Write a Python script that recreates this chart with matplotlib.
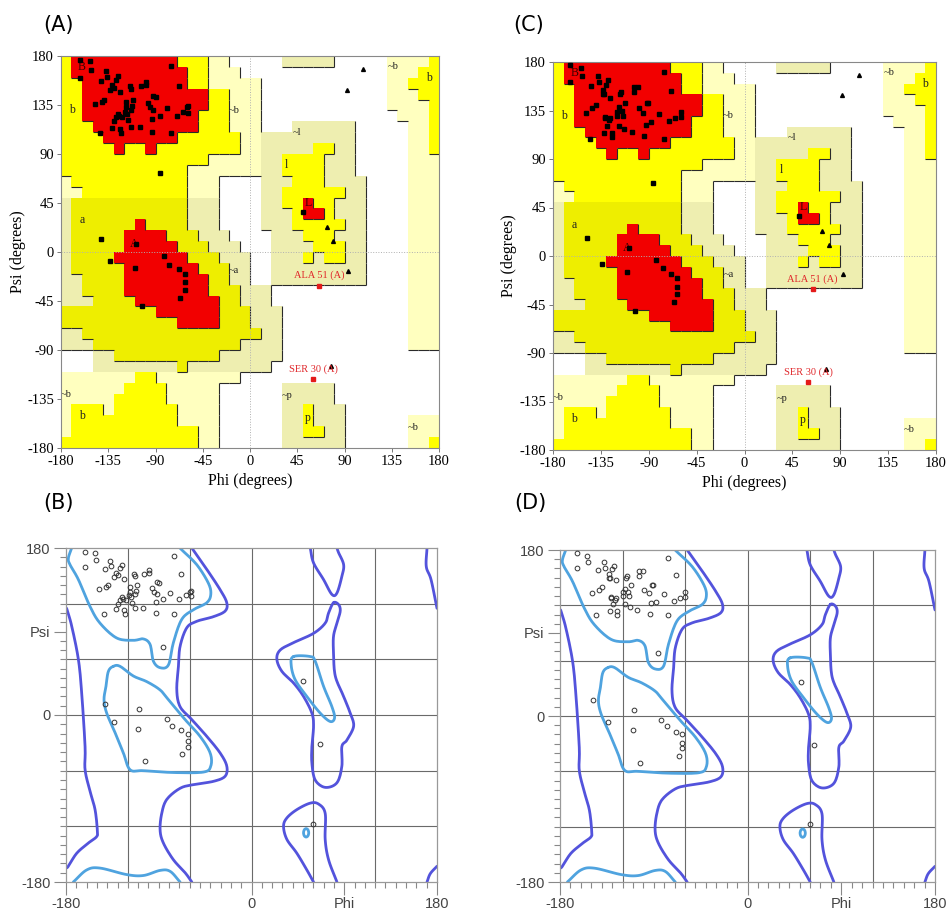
import numpy as np
import matplotlib
matplotlib.use("Agg")
import matplotlib.pyplot as plt
from matplotlib.collections import LineCollection
from matplotlib.colors import ListedColormap
from matplotlib.patches import Ellipse

# ---------------- PROCHECK region map (rows from psi 180 down, runs: code + end phi) ---------
REGION_ROWS = [
    "A-170 R-70 A-40 G-20 .30 G80 .130 G170 A180",
    "A-170 R-60 A-40 G-10 .130 G160 A180",
    "A-160 R-60 A-40 G10 .130 G150 A180",
    "A-160 R-40 A-20 G10 .130 G160 A180",
    "A-160 R-40 A-20 G10 .130 G170 A180",
    "A-160 R-50 A-20 G10 .140 G170 A180",
    "A-150 R-50 A-20 G10 .40 G100 .150 G170 A180",
    "A-140 R-70 A-10 G100 .150 G170 A180",
    "A-130 R-120 A-100 R-90 A-10 G60 A80 G100 .150 G170 A180",
    "A-40 G30 A70 G100 .150 G180",
    "A-60 G30 A70 G100 .150 G180",
    "G-170 A-60 G-30 .10 G40 A70 G110 .150 G180",
    "G-160 A-60 G-30 .10 G30 A90 G110 .150 G180",
    "G-170 A-60 G-30 .10 G30 A50 R60 A80 G110 .150 G180",
    "G-170 A-60 G-30 .10 G40 A50 R70 A80 G110 .150 G180",
    "G-170 A-110 R-100 A-60 G-30 .10 G40 A90 G110 .150 G180",
    "G-170 A-120 R-80 A-50 G-20 .20 G50 A80 G110 .150 G180",
    "G-170 A-120 R-70 A-40 G-10 .20 G60 A90 G110 .150 G180",
    "G-170 A-130 R-60 A-30 G0 .20 G50 A60 G70 A90 G110 .150 G180",
    "G-170 A-120 R-50 A-20 G0 .20 G110 .150 G180",
    "G-160 A-120 R-40 A-20 G0 .20 G110 .150 G180",
    "G-160 A-120 R-40 A-10 G20 .150 G180",
    "G-150 A-110 R-30 A-10 G20 .150 G180",
    "A-90 R-30 A0 G30 .150 G180",
    "A-70 R-30 A0 G30 .150 G180",
    "G-160 A10 G30 .150 G180",
    "G-150 A-10 G30 .150 G180",
    ".-150 G-130 A-30 G30 .180",
    ".-150 G-70 A-60 G20 .180",
    "G-110 A-90 G-10 .180",
    "G-120 A-80 G-30 .30 G80 .180",
    "G-130 A-80 G-30 .30 G80 .180",
    "G-170 A-140 G-130 A-70 G-30 .30 G50 A60 G90 .180",
    "G-170 A-70 G-30 .30 G50 A60 G90 .150 G180",
    "G-170 A-50 G-30 .30 G50 A70 G90 .150 G180",
    "A-50 G-30 .30 G90 .150 G170 A180",
]

REGION_LABELS = [("B", -160, 170), ("b", -170, 130), ("~b", -15, 130), ("~l", 45, 110),
                 ("l", 35, 80), ("L", 55, 45), ("a", -160, 29), ("A", -110, 7),
                 ("~a", -15, -17), ("~b", 136, 170), ("b", 170, 160), ("~b", -175, -131),
                 ("b", -160, -151), ("~p", 35, -132), ("p", 55, -152), ("~b", 155, -161)]

# ---------------- Model 1 (panels A and B) ----------------
m1_phi = [-162, -152, -151, -162, -137, -136, -142, -126, -128, -131, -133, -130, -124, -114, -113,
          -104, -99, -99, -92, -90, -148, -141, -139, -118, -118, -111, -112, -113, -119, -117,
          -126, -125, -128, -122, -116, -130, -97, -95, -92, -79, -93, -86, -70, -64, -60, -59,
          -59, -68, -75, -143, -131, -124, -123, -113, -105, -93, -75, -86,
          -142, -109, -133, -110, -82, -77, -68, -62, -62, -62, -67, -103, 50]
m1_psi = [176, 175, 167, 160, 166, 161, 157, 162, 158, 153, 149, 151, 147, 152, 150,
          152, 156, 153, 143, 142, 136, 138, 140, 138, 133, 140, 134, 130, 129, 127,
          127, 125, 124, 124, 121, 120, 137, 133, 130, 132, 122, 125, 125, 129, 133, 134,
          128, 152, 171, 109, 114, 113, 109, 115, 115, 110, 109, 73,
          12, 7, -8, -15, -4, -12, -16, -20, -28, -35, -42, -50, 37]
m1_out_phi = [66, 60]
m1_out_psi = [-31, -117]

# ---------------- Model 2 (panels C and D) ----------------
m2_phi = [-164, -154, -153, -164, -138, -137, -144, -128, -130, -133, -133, -132, -126, -116, -117,
          -104, -100, -104, -112, -92, -91, -149, -143, -140, -131, -131, -126, -127, -129, -120,
          -118, -120, -115, -114, -118, -113, -106, -99, -95, -93, -88, -80, -71, -65, -60, -60,
          -76, -69, -145, -132, -125, -125, -94, -76, -86,
          -148, -109, -134, -110, -83, -77, -69, -63, -63, -63, -66, -103, 51]
m2_psi = [177, 174, 167, 161, 167, 161, 158, 163, 159, 154, 150, 150, 147, 152, 150,
          157, 157, 152, 142, 142, 142, 133, 137, 140, 129, 128, 128, 126, 121, 134,
          138, 130, 135, 130, 121, 118, 115, 137, 133, 122, 124, 132, 125, 128, 134, 129,
          171, 153, 109, 114, 114, 110, 111, 109, 68,
          17, 7, -7, -15, -4, -11, -17, -20, -29, -35, -43, -51, 37]
m2_out_phi = [64, 60]
m2_out_psi = [-31, -117]
out_names = ["ALA 51 (A)", "SER 30 (A)"]

gly_phi = [108, 92, 73, 79, 93, 77]
gly_psi = [168, 149, 23, 10, -17, -105]

# ---------------- MolProbity contour lines (phi, psi) ----------------
FAV_LINES = [
    ([-174.5, -177.7, -176.1, -168.0, -156.7, -147.0, -130.8, -114.6, -104.9, -98.4, -95.2, -88.7,
      -80.6, -75.8, -67.7, -56.3, -43.4, -39.5, -41.8, -53.1, -67.7, -69.3],
     [180, 169, 162, 146, 117, 99, 83, 80.5, 82, 76, 58, 51, 54, 78, 103, 113.5, 121, 130, 142,
      162, 178, 180], False),
    ([-172.9, -159.9, -147.0, -121.1, -104.9, -88.7, -79.0, -69.3],
     [-180, -167, -165, -172, -173, -167.5, -168.5, -180], False),
    ([-134.0, -138.9, -141.2, -143.1, -140.5, -132.4, -124.3, -117.8, -104.9, -75.8, -46.6, -39.5,
      -40.1, -49.9, -64.4, -80.6, -88.7, -101.7, -114.6, -127.6],
     [52.5, 47, 31, 16.5, 2, -19, -41, -59, -60, -62, -61.5, -55, -41, -23, -5, 16.5, 27, 36, 42,
      52.5], True),
    ([40.8, 38.5, 42.4, 53.7, 66.7, 76.4, 80.6, 78.0, 69.9, 61.8, 57.0],
     [63, 54, 38, 20, 2, -7, -3, 9, 31, 58, 63], True),
]
ALLOW_LINES = [
    ([-179.4, -174.5, -168.0, -164.8, -161.5, -161.5, -156.7, -151.8, -149.6, -150.2, -158.3,
      -169.6, -177.7, -180],
     [115, 96, 60, 24, -34, -59, -82, -102, -124, -131, -138, -149, -163, -165], False),
    ([170.3, 169.6, 174.2, 180], [180, 160, 146, 115], False),
    ([180, 173.5, 170.3], [-163, -171, -180], False),
    ([-57.9, -43.4, -30.4, -24.0, -25.6, -36.9, -53.1, -62.8, -69.3, -70.9, -72.5, -69.3, -57.9,
      -43.4, -30.4, -24.0, -25.6, -36.9, -56.3, -69.3, -82.2, -87.1, -88.7, -85.5, -75.8, -64.4,
      -57.9],
     [180, 157, 135, 121, 112, 106, 101, 94, 74, 52.5, 27, 9, -5, -23, -41, -55, -66, -71.5,
      -75, -79, -91, -106, -124, -138, -156, -170, -180], False),
    ([57.0, 60.2, 69.9, 78.0, 82.9, 87.7, 89.4, 84.5, 82.9],
     [180, 164, 146, 130, 131.5, 149.5, 162, 175, 180], False),
    ([79.6, 74.8, 71.5, 60.2, 40.8, 27.8, 24.6, 29.5, 40.8, 50.5, 58.6, 60.2, 58.6, 58.6, 61.8,
      71.5, 82.9, 87.7, 87.7, 92.6, 99.1, 95.8, 89.4, 81.3, 79.6, 79.6, 82.9, 86.1, 84.5],
     [121, 110, 99, 88, 78, 70, 60, 47, 34.5, 20, 2, -12, -34, -52, -70, -78, -73, -55, -34, -27,
      -12, 2, 20, 42, 67, 85, 99, 112, 119], True),
    ([82.9, 74.8, 71.5, 71.5, 65.1, 57.0, 44.0, 34.3, 31.1, 34.3, 44.0, 53.7, 60.2],
     [-180, -156, -134, -106, -96, -95, -102, -111, -120, -134, -149, -167, -180], False),
]
FAV_SPOT = (53, -127)

SERIF = "Liberation Serif"
SANS = "Liberation Sans"


def smooth(xs, ys, closed=False, n=10):
    P = np.column_stack([xs, ys]).astype(float)
    if closed:
        P = np.vstack([P[-1], P, P[0], P[1]])
    else:
        P = np.vstack([2 * P[0] - P[1], P, 2 * P[-1] - P[-2]])
    out = []
    t = np.linspace(0, 1, n, endpoint=False)[:, None]
    for i in range(1, len(P) - 2):
        p0, p1, p2, p3 = P[i - 1], P[i], P[i + 1], P[i + 2]
        seg = 0.5 * (2 * p1 + (-p0 + p2) * t + (2 * p0 - 5 * p1 + 4 * p2 - p3) * t ** 2
                     + (-p0 + 3 * p1 - 3 * p2 + p3) * t ** 3)
        out.append(seg)
    out.append(P[-2][None])
    return np.vstack(out)


def parse_regions():
    lev = np.zeros((36, 36), int)
    codemap = {"R": 3, "A": 2, "G": 1, ".": 0}
    for r, row in enumerate(REGION_ROWS):
        start = -180
        for tok in row.split():
            code, end = tok[0], int(tok[1:])
            c0, c1 = (start + 180) // 10, (end + 180) // 10
            lev[r, c0:c1] = codemap[code]
            start = end
    return lev


LEVEL = parse_regions()


def region_colors(lev):
    col = np.zeros_like(lev)
    for r in range(36):
        psi_c = 175 - 10 * r
        for c in range(36):
            phi_c = -175 + 10 * c
            band = (phi_c < 10) and (-110 <= psi_c < 50)
            L = lev[r, c]
            if L == 3:
                col[r, c] = 5
            elif L == 2:
                col[r, c] = 3 if band else 4
            elif L == 1:
                col[r, c] = 1 if (band or 10 <= phi_c < 120) else 2
            else:
                col[r, c] = 0
    return col


def draw_procheck(ax, phi, psi, out_phi, out_psi):
    col = region_colors(LEVEL)
    cmap = ListedColormap(["#ffffff", "#eeeeb0", "#ffffbf", "#eeee00", "#ffff00", "#f20000"])
    edges = np.arange(-180, 181, 10)
    ax.pcolormesh(edges, edges, col[::-1], cmap=cmap, vmin=-0.5, vmax=5.5, shading="flat", zorder=0)
    segs = []
    for r in range(36):
        top, bot = 180 - 10 * r, 170 - 10 * r
        for c in range(35):
            if LEVEL[r, c] > LEVEL[r, c + 1]:
                x = -170 + 10 * c
                segs.append([(x, bot), (x, top)])
    for r in range(35):
        y = 170 - 10 * r
        for c in range(36):
            if LEVEL[r, c] > LEVEL[r + 1, c]:
                segs.append([(-180 + 10 * c, y), (-170 + 10 * c, y)])
    ax.add_collection(LineCollection(segs, colors="#2a2a2a", linewidths=0.8, zorder=1))
    ax.axhline(0, color="#b0b0b0", lw=0.7, ls=":", zorder=1)
    ax.axvline(0, color="#b0b0b0", lw=0.7, ls=":", zorder=1)
    for txt, x, y in REGION_LABELS:
        ax.text(x, y, txt, fontsize=7.5 if len(txt) > 1 else 8.5, family=SERIF,
                color="#3a0000" if txt in ("B", "A", "L") else "#222222",
                ha="center", va="center", zorder=2)
    ax.plot(phi, psi, "s", color="black", ms=3.4, zorder=3)
    ax.plot(gly_phi, gly_psi, "^", color="black", ms=2.8, zorder=3)
    ax.plot(out_phi, out_psi, "s", color="#e41a1a", ms=3.4, zorder=3)
    for n, x, y in zip(out_names, out_phi, out_psi):
        ax.text(x, y + 5, n, color="#e0262a", fontsize=7.5, family=SERIF, ha="center", va="bottom",
                zorder=4)
    ax.set_xlim(-180, 180)
    ax.set_ylim(-180, 180)
    ticks = np.arange(-180, 181, 45)
    ax.set_xticks(ticks)
    ax.set_yticks(ticks)
    ax.set_xticklabels([str(t) for t in ticks], family=SERIF, fontsize=10.5)
    ax.set_yticklabels([str(t) for t in ticks], family=SERIF, fontsize=10.5)
    ax.tick_params(direction="out", length=3, width=0.7, color="#777777", pad=2)
    for s in ax.spines.values():
        s.set_color("#888888")
        s.set_linewidth(0.8)
    ax.text(0.5, -0.085, "Phi (degrees)", transform=ax.transAxes, ha="center", va="center",
            family=SERIF, fontsize=11.5)
    ax.text(-0.115, 0.5, "Psi (degrees)", transform=ax.transAxes, ha="center", va="center",
            rotation=90, family=SERIF, fontsize=11.5)


def draw_molprobity(ax, phi, psi, out_phi, out_psi):
    ax.set_xlim(-180, 180)
    ax.set_ylim(-180, 180)
    for v in (-120, -60, 0, 60, 120):
        ax.axvline(v, color="#6a6a6a", lw=0.8, zorder=0)
        ax.axhline(v, color="#6a6a6a", lw=0.8, zorder=0)
    for xs, ys, closed in ALLOW_LINES:
        P = smooth(xs, ys, closed)
        ax.plot(P[:, 0], P[:, 1], color="#5353dc", lw=2.0, solid_capstyle="round", zorder=1)
    for xs, ys, closed in FAV_LINES:
        P = smooth(xs, ys, closed)
        ax.plot(P[:, 0], P[:, 1], color="#4fa3df", lw=2.0, solid_capstyle="round", zorder=2)
    ax.add_patch(Ellipse(FAV_SPOT, 5, 9, fill=False, ec="#4fa3df", lw=2.0, zorder=2))
    ax.plot(list(phi) + list(out_phi), list(psi) + list(out_psi), "o", mfc="none", mec="#333333",
            ms=3.4, mew=0.7, zorder=3)
    ax.set_xticks([-180, 0, 90, 180])
    ax.set_xticklabels(["-180", "0", "Phi", "180"], family=SANS, fontsize=10.5, color="#444444")
    ax.set_yticks([-180, 0, 90, 180])
    ax.set_yticklabels(["-180", "0", "Psi", "180"], family=SANS, fontsize=10.5, color="#444444")
    ax.set_xticks(np.arange(-180, 181, 10), minor=True)
    ax.set_yticks(np.arange(-180, 181, 10), minor=True)
    ax.tick_params(which="major", direction="out", length=9, width=0.8, color="#888888", pad=2)
    ax.tick_params(which="minor", direction="out", length=4, width=0.8, color="#888888")
    for s in ax.spines.values():
        s.set_color("#999999")
        s.set_linewidth(0.9)


fig = plt.figure(figsize=(9.46, 9.10), dpi=100)
axA = fig.add_axes([61 / 946, 1 - 448 / 910, 378 / 946, 392 / 910])
axC = fig.add_axes([553 / 946, 1 - 450 / 910, 383 / 946, 388 / 910])
axB = fig.add_axes([66 / 946, 1 - 882 / 910, 371 / 946, 334 / 910])
axD = fig.add_axes([560 / 946, 1 - 882 / 910, 375 / 946, 332 / 910])

draw_procheck(axA, m1_phi, m1_psi, m1_out_phi, m1_out_psi)
draw_procheck(axC, m2_phi, m2_psi, m2_out_phi, m2_out_psi)
draw_molprobity(axB, m1_phi, m1_psi, m1_out_phi, m1_out_psi)
draw_molprobity(axD, m2_phi, m2_psi, m2_out_phi, m2_out_psi)

for lbl, x, y in [("(A)", 58, 25), ("(C)", 529, 25), ("(B)", 58, 503), ("(D)", 530, 503)]:
    fig.text(x / 946, 1 - y / 910, lbl, fontsize=15, family="DejaVu Sans", ha="center", va="center")

fig.savefig("out.png", dpi=100)
